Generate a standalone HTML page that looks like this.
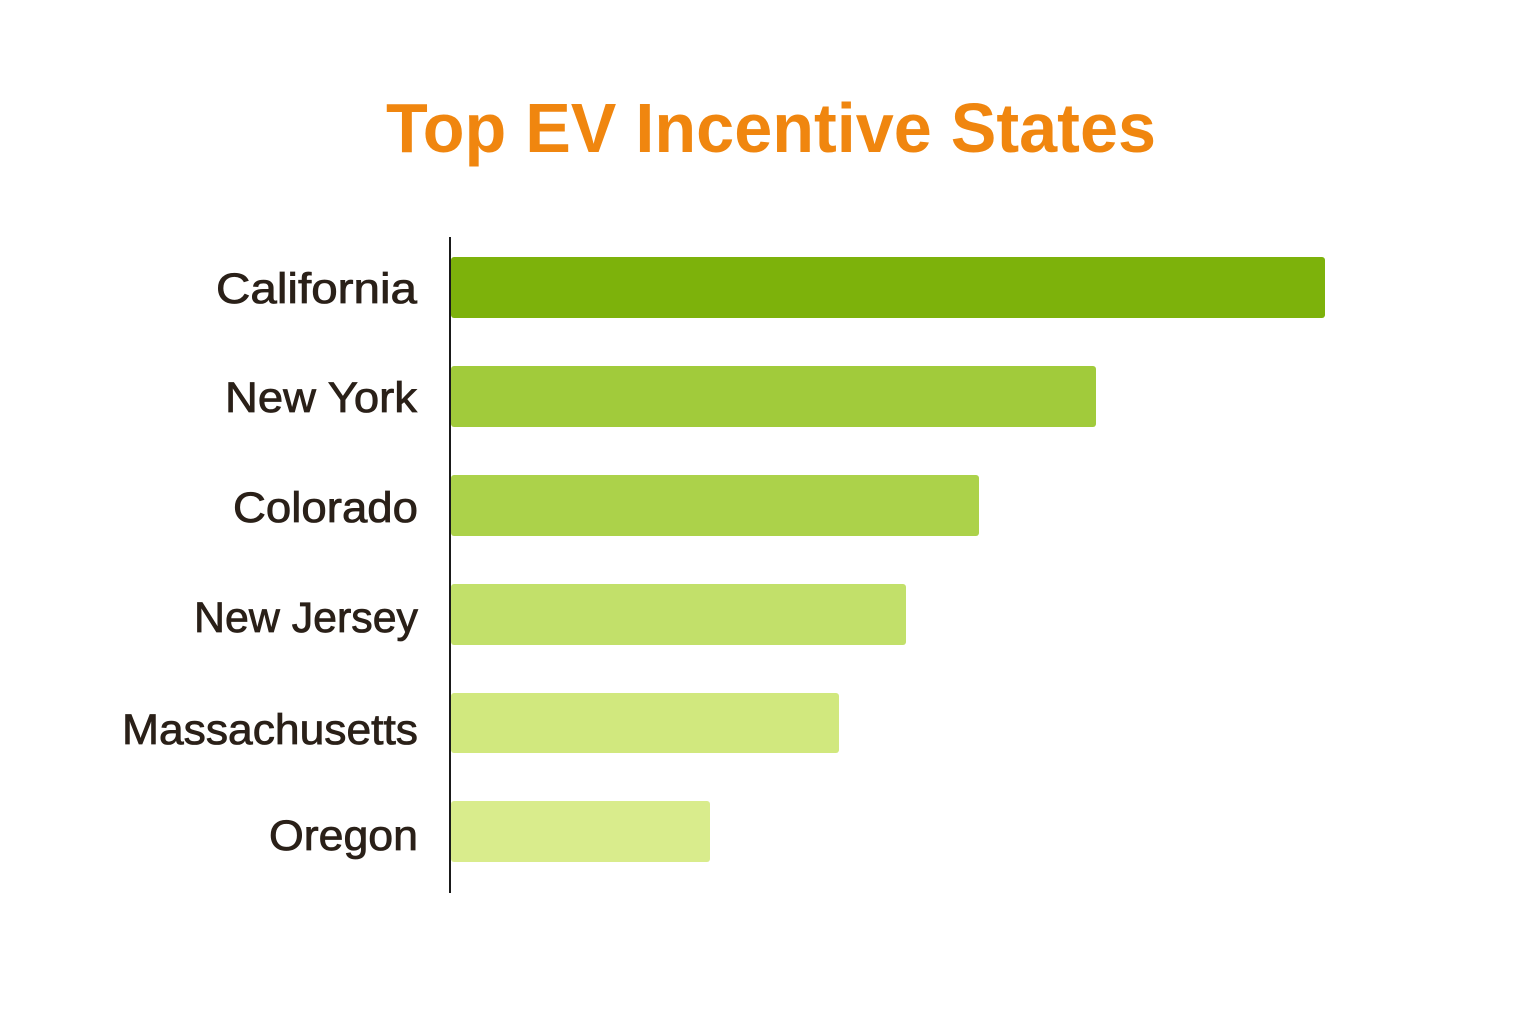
<!DOCTYPE html>
<html><head><meta charset="utf-8"><style>
html,body{margin:0;padding:0;background:#fff;}
svg{display:block;}
text{font-family:"Liberation Sans",sans-serif;}
</style></head><body>
<svg width="1536" height="1024" viewBox="0 0 1536 1024">
<rect width="1536" height="1024" fill="#fff"/>
<text x="386" y="152" font-size="70" font-weight="bold" fill="#F0860F" textLength="770" lengthAdjust="spacingAndGlyphs">Top EV Incentive States</text>
<line x1="450" y1="237" x2="450" y2="893" stroke="#1a1a1a" stroke-width="2"/>
<g>
<rect x="451" y="257" width="874" height="61" rx="3" fill="#7db20b"/>
<rect x="451" y="366" width="645" height="61" rx="3" fill="#a1cb3b"/>
<rect x="451" y="475" width="528" height="61" rx="3" fill="#acd24a"/>
<rect x="451" y="584" width="455" height="61" rx="3" fill="#c2e06a"/>
<rect x="451" y="693" width="388" height="60" rx="3" fill="#d1e87e"/>
<rect x="451" y="801" width="259" height="61" rx="3" fill="#d9ec8c"/>
</g>
<g font-size="43" fill="#2a2018" stroke="#2a2018" stroke-width="0.8" lengthAdjust="spacingAndGlyphs">
<text x="216" y="303" textLength="201" lengthAdjust="spacingAndGlyphs">California</text>
<text x="225" y="412" textLength="192" lengthAdjust="spacingAndGlyphs">New York</text>
<text x="233" y="522" textLength="185" lengthAdjust="spacingAndGlyphs">Colorado</text>
<text x="194" y="632" textLength="224" lengthAdjust="spacingAndGlyphs">New Jersey</text>
<text x="122" y="744" textLength="296" lengthAdjust="spacingAndGlyphs">Massachusetts</text>
<text x="269" y="850" textLength="149" lengthAdjust="spacingAndGlyphs">Oregon</text>
</g>
</svg>
</body></html>
